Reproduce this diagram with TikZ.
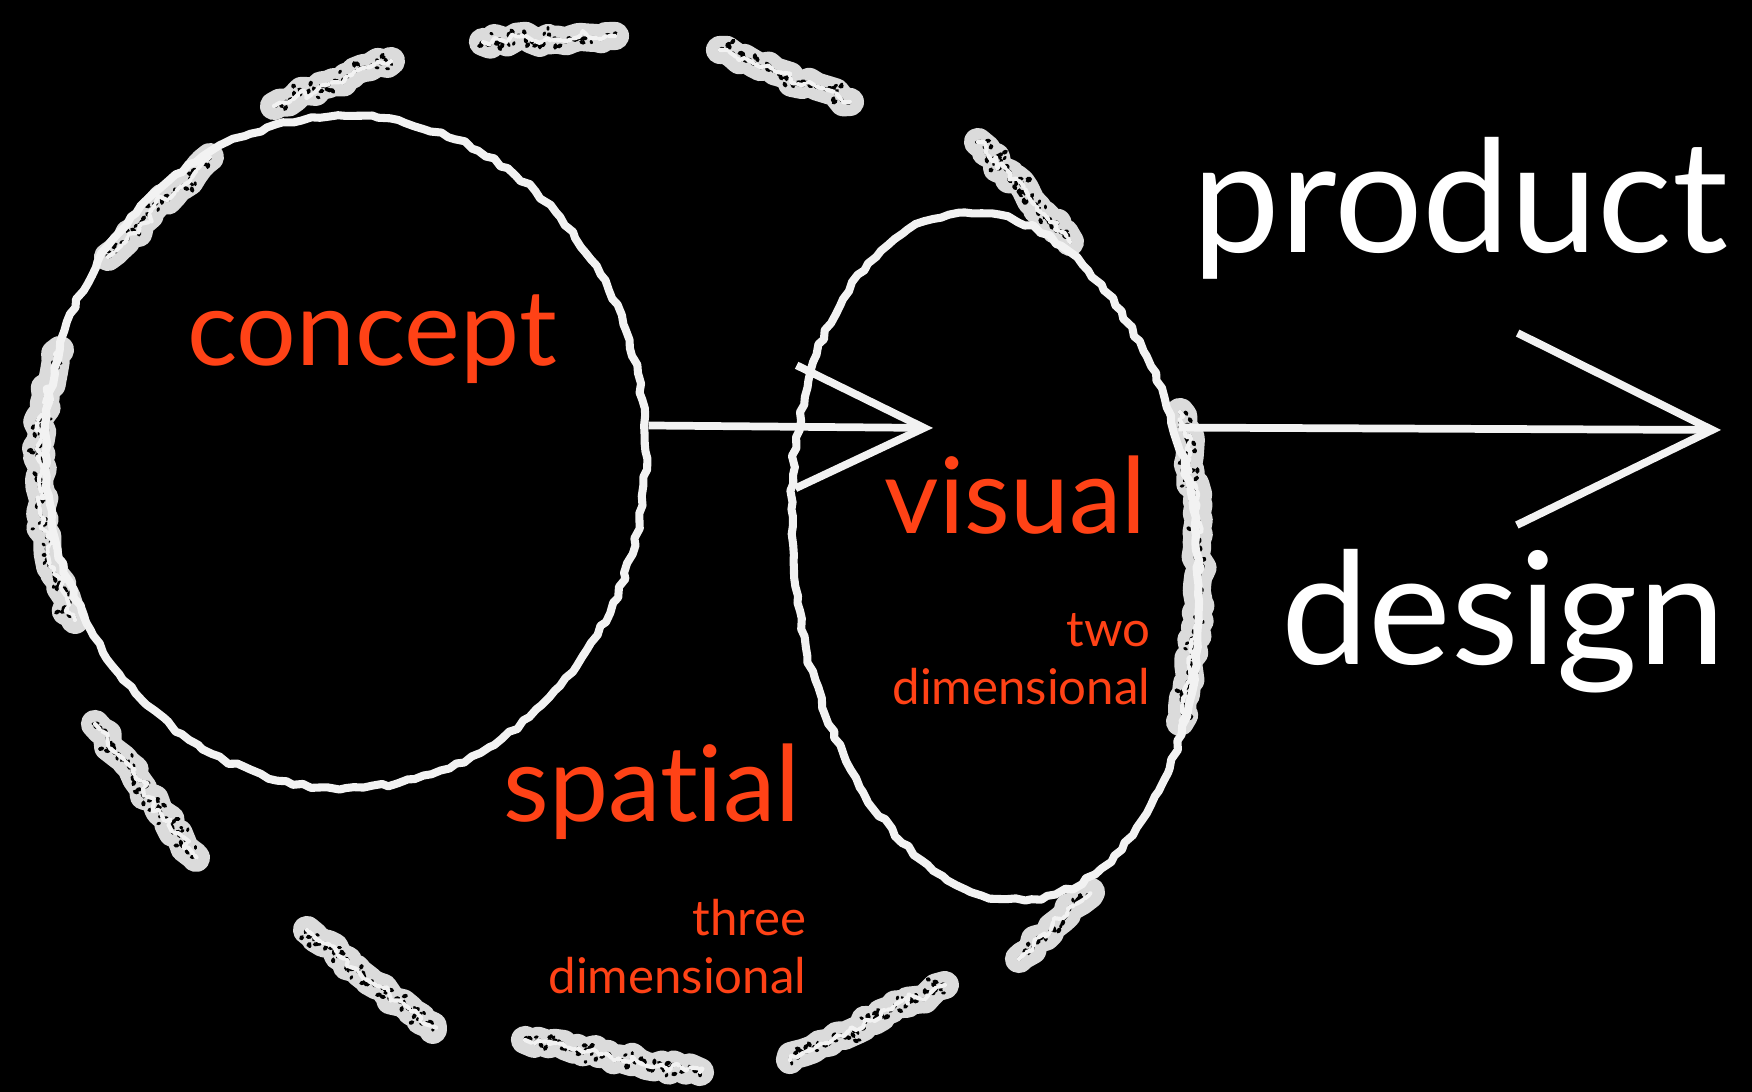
\documentclass[tikz,border=0pt]{standalone}
\usepackage{fontspec}
\setmainfont{Lato}[Ligatures=NoCommon]
\usetikzlibrary{shapes.geometric,arrows.meta,decorations.pathmorphing}

\definecolor{chalk}{gray}{0.95}
\definecolor{chalkdust}{gray}{0.86}
\definecolor{ideared}{RGB}{255,66,22}

\begin{document}
\begin{tikzpicture}[line join=round,
  ring/.style={ellipse, draw=chalk, line width=2.3pt, inner sep=0pt,
    decorate, decoration={random steps, segment length=2.5pt, amplitude=0.6pt}},
  smudge/.style={draw=chalkdust, line width=8pt, line cap=round,
    decorate, decoration={random steps, segment length=2pt, amplitude=1.2pt},
    postaction={draw=black, line width=1.1pt, dash pattern=on 0.8pt off 1.6pt, decorate,
      decoration={random steps, segment length=1.2pt, amplitude=3pt}},
    postaction={draw=black, line width=0.8pt, dash pattern=on 0.6pt off 2.4pt, decorate,
      decoration={random steps, segment length=1.7pt, amplitude=3.3pt}},
    postaction={draw=chalk, line width=1.2pt, dash pattern=on 2pt off 1pt, decorate,
      decoration={random steps, segment length=2pt, amplitude=2pt}}},
  flow/.style={draw=chalk, line width=2.2pt},
  word/.style={text=ideared, font=\fontsize{30}{30}\selectfont, inner sep=0pt},
  note/.style={text=ideared, font=\fontsize{14}{16.5}\selectfont, align=right, inner sep=0pt},
  headline/.style={text=white, font=\fontsize{44.5}{44.5}\selectfont, inner sep=0pt}]
\pgfmathsetseed{7}
\useasboundingbox (0,0) rectangle (17.52,10.92);
\fill[black] (0,0) rectangle (17.52,10.92);

% dust of the outer ring
\draw[smudge] (2.74,9.86) -- (3.91,10.31);
\draw[smudge] (4.83,10.50) -- (6.15,10.56);
\draw[smudge] (7.20,10.42) -- (8.50,9.90);
\draw[smudge] (9.78,9.50) -- (10.70,8.50);
\draw[smudge] (1.08,8.35) -- (2.10,9.35);
\draw[smudge] (0.60,7.42) .. controls (0.30,6.80) and (0.30,5.50) .. (0.75,4.72);
\draw[smudge] (0.95,3.68) -- (1.96,2.34);
\draw[smudge] (3.07,1.62) -- (4.33,0.62);
\draw[smudge] (5.25,0.52) -- (7.00,0.20);
\draw[smudge] (7.90,0.32) -- (9.45,1.07);
\draw[smudge] (10.19,1.33) -- (10.91,2.00);
\draw[smudge] (11.80,6.80) .. controls (12.05,5.90) and (12.05,4.80) .. (11.80,3.70);

% the two rings
\node[ring, minimum width=6.0cm, minimum height=6.72cm] (conceptring) at (3.455,6.40) {};
\node[ring, rotate=6, minimum width=4.04cm, minimum height=6.9cm] (visualring) at (9.95,5.36) {};

\coordinate (visualtip) at (9.33,6.64);
\coordinate (productend) at (17.21,6.62);
\draw[flow, -{Straight Barb[length=12.8mm, width=12.3mm]}] (conceptring.5) -- (visualtip);
\draw[flow, -{Straight Barb[length=19.5mm, width=19.2mm]}] (visualring.29) -- (productend);

% labels
\node[word, anchor=base] (concept) at (3.72,7.26) {concept};
\node[word, anchor=base east] (visual) at (11.47,5.58) {visual};
\node[note, anchor=base east] (visualnote) at (11.51,3.87) {two\\dimensional};
\node[word, anchor=base east] (spatial) at (8.01,2.70) {spatial};
\node[note, anchor=base east] (spatialnote) at (8.07,0.98) {three\\dimensional};
\node[headline, anchor=base east] (product) at (17.29,8.39) {product};
\node[headline, anchor=base east] (design) at (17.26,4.27) {design};
\end{tikzpicture}
\end{document}
